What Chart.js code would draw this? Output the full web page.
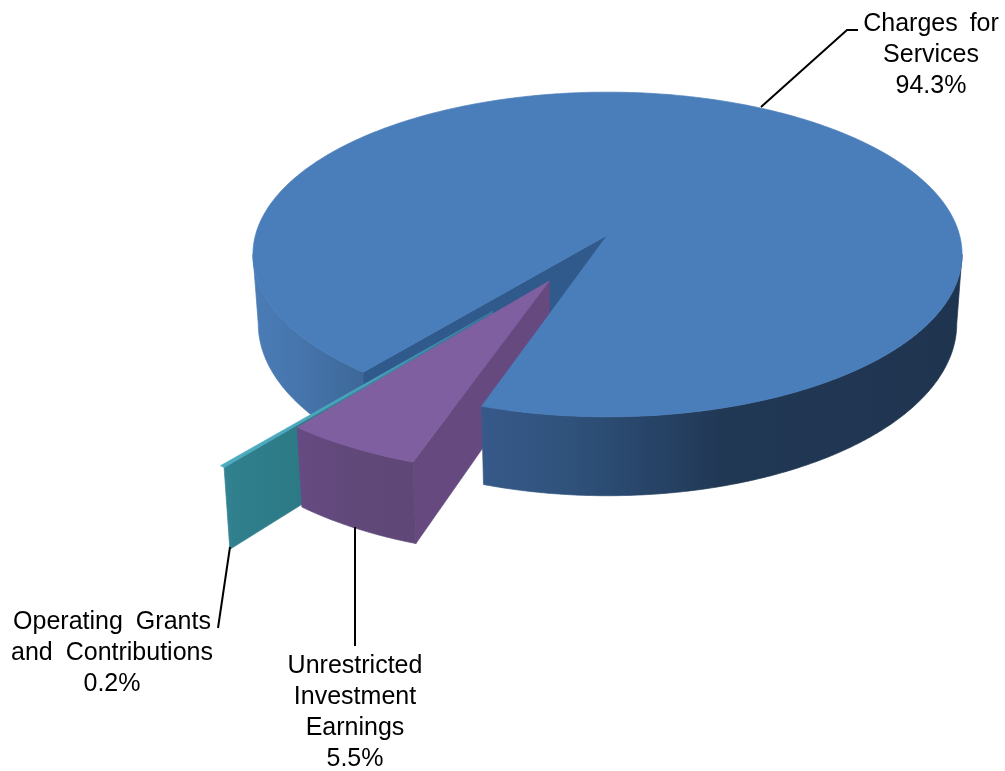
<!DOCTYPE html>
<html>
<head>
<meta charset="utf-8">
<title>Revenue by source</title>
<script src="https://cdn.jsdelivr.net/npm/chart.js@4"></script>
<style>
  html, body { margin: 0; background: #fff; }
  canvas { display: block; }
</style>
</head>
<body>
<canvas id="revenueChart" width="1005" height="771"></canvas>
<script>
const categories = ['Charges for Services', 'Unrestricted Investment Earnings', 'Operating Grants and Contributions'];
const shares = [94.3, 5.5, 0.2];
const labelLines = [
    ['Charges for', 'Services'],
    ['Unrestricted', 'Investment', 'Earnings'],
    ['Operating Grants', 'and Contributions']
];

// camera for the tilted pie
const cam = { x: 607.5, y: 235, fx: 352, fy: 160, persp: 0.12, depth: 68, lowX: 0.985, lowY: 1.06 };

// how far each slice is pulled out, in pie radii
const sliceShift = [[0, 0], [-0.16, 0.278], [-0.308, 0.452]];
const sliceRadius = [1, 0.985, 1];

const labelBoxes = [
    { x: 931, y: 24, gap: 5 },
    { x: 355, y: 666, gap: 0 },
    { x: 112, y: 622, gap: 6 }
];
const leaders = [
    [[761, 107], [847, 30], [858, 30]],
    [[355, 527], [355, 646]],
    [[230, 547], [218, 628]]
];

function project(X, Y, low) {
    const w = 1 - cam.persp * Y;
    let dx = cam.fx * X / w;
    let dy = cam.fy * Y / w;
    if (low) {
        dx *= cam.lowX;
        dy = dy * cam.lowY + cam.depth;
    }
    return [cam.x + dx, cam.y + dy];
}

function rimPoint(i, angle, low) {
    const r = sliceRadius[i];
    return project(sliceShift[i][0] + r * Math.cos(angle), sliceShift[i][1] + r * Math.sin(angle), low);
}

function apexPoint(i, low) {
    return project(sliceShift[i][0], sliceShift[i][1], low);
}

function rimPoints(i, from, to, low) {
    const pts = [];
    const steps = Math.max(2, Math.ceil(Math.abs(to - from) / 0.01));
    for (let s = 0; s <= steps; s++) {
        pts.push(rimPoint(i, from + (to - from) * s / steps, low));
    }
    return pts;
}

// the thin stroke closes the seams between neighbouring faces
function fillPoly(ctx, pts, fill) {
    ctx.beginPath();
    pts.forEach((p, n) => n ? ctx.lineTo(p[0], p[1]) : ctx.moveTo(p[0], p[1]));
    ctx.closePath();
    ctx.fillStyle = fill;
    ctx.fill();
    ctx.strokeStyle = fill;
    ctx.lineWidth = 0.7;
    ctx.stroke();
}

function hGradient(ctx, stops) {
    const x0 = stops[0][0], x1 = stops[stops.length - 1][0];
    const g = ctx.createLinearGradient(x0, 0, x1, 0);
    stops.forEach(s => g.addColorStop((s[0] - x0) / (x1 - x0), s[1]));
    return g;
}

// outer curved wall between two angles
function drawRim(ctx, i, from, to, fill) {
    fillPoly(ctx, rimPoints(i, from, to, false).concat(rimPoints(i, to, from, true)), fill);
}

// flat cut wall running from the slice centre out to the rim
function drawCut(ctx, i, angle, fill) {
    fillPoly(ctx, [apexPoint(i, false), rimPoint(i, angle, false), rimPoint(i, angle, true), apexPoint(i, true)], fill);
}

function drawTop(ctx, i, from, to, fill) {
    fillPoly(ctx, [apexPoint(i, false)].concat(rimPoints(i, from, to, false)), fill);
}

const tiltedPie = {
    id: 'tiltedPie',
    beforeDatasetDraw(chart) {
        const ctx = chart.ctx;
        const [blue, purple, teal] = chart.getDatasetMeta(0).data;
        // angle where the top and bottom outlines are widest
        const side = Math.asin(cam.persp);
        ctx.save();

        // back part of the big slice
        drawRim(ctx, 0, blue.startAngle, Math.PI - side, hGradient(ctx, [[253, '#4a7cb6'], [300, '#4675ac'], [365, '#3d6898']]));
        drawCut(ctx, 0, blue.startAngle, '#2f5a8b');

        // thin slice
        drawCut(ctx, 2, teal.startAngle, hGradient(ctx, [[220, '#348494'], [235, '#2f7f8d'], [300, '#2c7a85'], [370, '#3d8aa4'], [490, '#3a6f9b']]));
        drawTop(ctx, 2, teal.startAngle, teal.endAngle, hGradient(ctx, [[220, '#4aacc0'], [365, '#4aa3bc'], [490, '#3d7aa5']]));

        // middle slice
        drawCut(ctx, 1, purple.startAngle, '#65497f');
        drawRim(ctx, 1, purple.startAngle, purple.endAngle, hGradient(ctx, [[298, '#664a82'], [360, '#604878'], [415, '#5f4778']]));
        drawTop(ctx, 1, purple.startAngle, purple.endAngle, '#7f5f9f');

        // front wall and top of the big slice
        drawRim(ctx, 0, Math.PI * 2 + side, blue.endAngle, hGradient(ctx, [[482, '#36598a'], [560, '#30537d'], [640, '#28466a'], [720, '#213855'], [960, '#1f344f']]));
        drawTop(ctx, 0, blue.startAngle, blue.endAngle, '#4a7ebb');

        // leader lines
        ctx.strokeStyle = '#000';
        ctx.lineWidth = 2;
        leaders.forEach(line => {
            ctx.beginPath();
            line.forEach((p, n) => n ? ctx.lineTo(p[0], p[1]) : ctx.moveTo(p[0], p[1]));
            ctx.stroke();
        });

        // labels
        ctx.fillStyle = '#000';
        ctx.font = '25px "Liberation Sans", Arial, sans-serif';
        ctx.textAlign = 'center';
        ctx.textBaseline = 'middle';
        labelLines.forEach((lines, i) => {
            const box = labelBoxes[i];
            ctx.wordSpacing = box.gap + 'px';
            lines.concat(shares[i].toFixed(1) + '%').forEach((text, n) => {
                ctx.fillText(text, box.x, box.y + n * 31);
            });
        });
        ctx.restore();
        return false;
    }
};

new Chart(document.getElementById('revenueChart').getContext('2d'), {
    type: 'pie',
    data: {
        labels: categories,
        datasets: [{
            label: 'Revenue',
            data: shares,
            backgroundColor: ['#4a7ebb', '#7f5f9f', '#4aacc0']
        }]
    },
    options: {
        responsive: false,
        animation: false,
        rotation: 219,
        plugins: {
            legend: { display: false },
            tooltip: { enabled: false }
        }
    },
    plugins: [tiltedPie]
});
</script>
</body>
</html>
